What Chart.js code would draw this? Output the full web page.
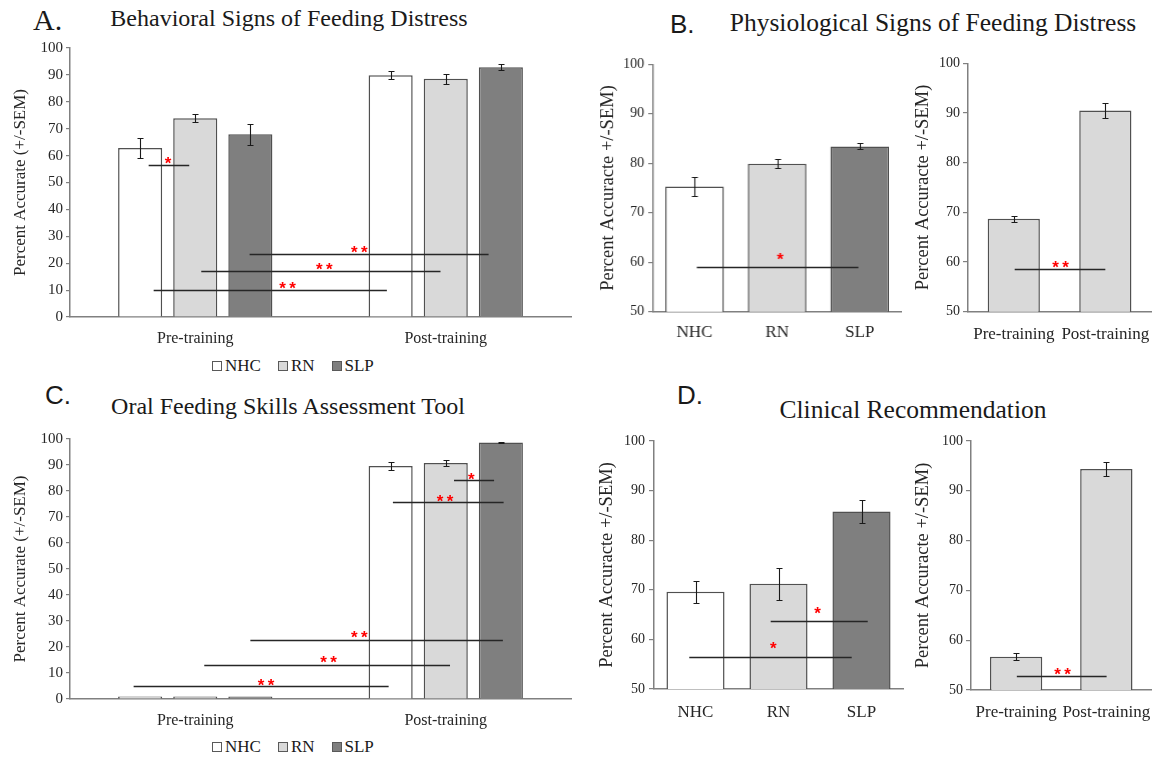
<!DOCTYPE html>
<html>
<head>
<meta charset="utf-8">
<script src="https://cdn.jsdelivr.net/npm/chart.js@4.4.1/dist/chart.umd.min.js"></script>
<style>
  body { margin: 0; width: 1160px; height: 757px; position: relative; overflow: hidden; background: #fff;
         font-family: "Liberation Serif", "Times New Roman", serif; color: #1a1a1a; }
  canvas { position: absolute; }
  .txt { position: absolute; white-space: nowrap; line-height: 1; }
  .title { transform: translateX(-50%); }
  .sans { font-family: "Liberation Sans", Arial, sans-serif; }
  .legend { position: absolute; display: flex; align-items: center; font-size: 17px; line-height: 1; }
  .legend span.box { display: inline-block; width: 8px; height: 8px; border: 1px solid #595959; margin-right: 3px; }
  .legend span.item { margin-right: 17px; }
</style>
</head>
<body>
<div class="txt" style="left:33px;top:5px;font-size:30px;">A.</div>
<div class="txt title" style="left:289px;top:6px;font-size:24px;">Behavioral Signs of Feeding Distress</div>
<div class="txt sans" style="left:670px;top:11px;font-size:26px;">B.</div>
<div class="txt title" style="left:933px;top:10px;font-size:25.5px;">Physiological Signs of Feeding Distress</div>
<div class="txt sans" style="left:45px;top:382px;font-size:26px;">C.</div>
<div class="txt title" style="left:288px;top:394px;font-size:24px;">Oral Feeding Skills Assessment Tool</div>
<div class="txt sans" style="left:677px;top:382px;font-size:26px;">D.</div>
<div class="txt title" style="left:913px;top:397px;font-size:25.5px;">Clinical Recommendation</div>

<script>
// categories
const phases = ['Pre-training', 'Post-training'];
const groups = ['NHC', 'RN', 'SLP'];

// A. Behavioral signs of feeding distress (% accurate, SEM), pre / post
const behavNHC = [62.8, 89.9];
const behavRN = [73.9, 88.6];
const behavSLP = [67.9, 92.8];
const behavNHCsem = [3.7, 1.5];
const behavRNsem = [1.4, 1.8];
const behavSLPsem = [3.8, 1.1];

// B. Physiological signs: by group, and by phase
const physioGroup = [75.3, 79.9, 83.4];
const physioGroupSem = [1.85, 0.9, 0.6];
const physioPhase = [68.7, 90.5];
const physioPhaseSem = [0.65, 1.5];

// C. Oral Feeding Skills Assessment Tool, pre / post
const ofsatNHC = [1.0, 89.6];
const ofsatRN = [1.0, 90.8];
const ofsatSLP = [1.0, 98.7];
const ofsatNHCsem = [0, 1.5];
const ofsatRNsem = [0, 1.2];
const ofsatSLPsem = [0, 0.3];

// D. Clinical recommendation: by group, and by phase
const clinGroup = [69.6, 71.2, 85.8];
const clinGroupSem = [2.2, 3.2, 2.25];
const clinPhase = [56.7, 94.4];
const clinPhaseSem = [0.7, 1.45];

// significance bars: from/to in category units, y in percent, star label position
const behavSig = [
  { from: -0.186, to: -0.024, y: 56.6, label: '*', at: -0.109, ly: 58.8 },
  { from: -0.166, to: 0.765, y: 10.1, label: '**', at: 0.368, ly: 12.2 },
  { from: 0.024, to: 0.979, y: 17.0, label: '**', at: 0.515, ly: 19.3 },
  { from: 0.217, to: 1.171, y: 23.6, label: '**', at: 0.655, ly: 25.6 }
];
const ofsatSig = [
  { from: -0.246, to: 0.772, y: 4.95, label: '**', at: 0.283, ly: 7.0 },
  { from: 0.036, to: 1.017, y: 13.2, label: '**', at: 0.532, ly: 15.7 },
  { from: 0.22, to: 1.228, y: 22.8, label: '**', at: 0.655, ly: 25.2 },
  { from: 0.789, to: 1.231, y: 75.8, label: '**', at: 0.997, ly: 77.7 },
  { from: 1.033, to: 1.193, y: 84.3, label: '*', at: 1.102, ly: 86.1 }
];
const physioGroupSig = [{ from: 0.028, to: 1.984, y: 59.0, label: '*', at: 1.037, ly: 61.4 }];
const physioPhaseSig = [{ from: 0.01, to: 1.0, y: 58.5, label: '**', at: 0.51, ly: 59.9 }];
const clinGroupSig = [
  { from: -0.075, to: 1.882, y: 56.5, label: '*', at: 0.937, ly: 59.0 },
  { from: 0.906, to: 2.075, y: 63.8, label: '*', at: 1.472, ly: 66.2 }
];
const clinPhaseSig = [{ from: 0.008, to: 1.003, y: 52.8, label: '**', at: 0.516, ly: 54.0 }];

const fills = ['#ffffff', '#d9d9d9', '#7f7f7f'];
const edge = '#505050';
const axisColor = '#808080';
const textColor = '#262626';

// error bars + significance lines
function marks(sig) {
  return {
    id: 'marks',
    afterDatasetsDraw(chart) {
      const ctx = chart.ctx, x = chart.scales.x, y = chart.scales.y;
      ctx.save();
      ctx.strokeStyle = '#1a1a1a';
      ctx.lineWidth = 1.1;
      chart.data.datasets.forEach((ds, di) => {
        chart.getDatasetMeta(di).data.forEach((bar, i) => {
          const e = ds.sem[i];
          if (!e) return;
          const t = Math.round(y.getPixelForValue(ds.data[i] + e)) + 0.5;
          const b = Math.round(y.getPixelForValue(ds.data[i] - e)) + 0.5;
          const cx = Math.round(bar.x) + 0.5;
          ctx.beginPath();
          ctx.moveTo(cx, t); ctx.lineTo(cx, b);
          ctx.moveTo(cx - 3, t); ctx.lineTo(cx + 3, t);
          ctx.moveTo(cx - 3, b); ctx.lineTo(cx + 3, b);
          ctx.stroke();
        });
      });
      ctx.lineWidth = 1.3;
      ctx.strokeStyle = '#262626';
      ctx.fillStyle = '#ff0000';
      ctx.font = 'bold 17px "Liberation Sans", Arial, sans-serif';
      ctx.textAlign = 'center';
      ctx.textBaseline = 'alphabetic';
      sig.forEach(s => {
        const py = Math.round(y.getPixelForValue(s.y)) + 0.5;
        ctx.beginPath();
        ctx.moveTo(x.getPixelForValue(s.from), py);
        ctx.lineTo(x.getPixelForValue(s.to), py);
        ctx.stroke();
        const sx = x.getPixelForValue(s.at), sy = y.getPixelForValue(s.ly) + 10;
        const n = s.label.length;
        for (let k = 0; k < n; k++) {
          ctx.fillText('*', sx + (k - (n - 1) / 2) * 10, sy);
        }
      });
      ctx.restore();
    }
  };
}

function makeChart(box, area, labels, datasets, sig, opt) {
  const c = document.createElement('canvas');
  c.width = box.w; c.height = box.h;
  c.style.left = box.x + 'px'; c.style.top = box.y + 'px';
  c.style.width = box.w + 'px'; c.style.height = box.h + 'px';
  document.body.appendChild(c);
  const yW = area.l - box.x, xH = box.y + box.h - area.b;
  new Chart(c, {
    type: 'bar',
    data: { labels: labels, datasets: datasets },
    options: {
      responsive: false,
      animation: false,
      devicePixelRatio: 1,
      categoryPercentage: opt.cat,
      barPercentage: opt.bar,
      layout: { padding: { top: area.t - box.y, right: box.x + box.w - area.r, left: 0, bottom: 0 } },
      plugins: { legend: { display: false }, tooltip: { enabled: false } },
      scales: {
        x: {
          grid: { display: true, drawOnChartArea: false, drawTicks: false },
          border: { color: axisColor, width: 1.5 },
          ticks: { color: textColor, padding: opt.xPad, maxRotation: 0, autoSkip: false,
                   font: { family: 'Liberation Serif', size: opt.xFont } },
          afterFit: s => { s.height = xH; }
        },
        y: {
          min: opt.min, max: 100,
          ticks: { stepSize: 10, color: textColor, padding: opt.yPad,
                   font: { family: 'Liberation Serif', size: opt.yFont } },
          grid: { drawOnChartArea: false, drawTicks: true, tickLength: opt.tick, color: axisColor, lineWidth: 1.2 },
          border: { color: axisColor, width: 1.5 },
          title: { display: true, text: opt.yTitle, color: textColor,
                   padding: { top: opt.titlePad, bottom: 0 },
                   font: { family: 'Liberation Serif', size: opt.titleFont } },
          afterFit: s => { s.width = yW; }
        }
      }
    },
    plugins: [marks(sig)]
  });
}

function groupSets(a, b, c, ea, eb, ec) {
  return [a, b, c].map((d, i) => ({
    label: groups[i], data: d, sem: [ea, eb, ec][i],
    backgroundColor: fills[i], borderColor: edge, borderWidth: 1.5
  }));
}
function singleSet(d, e, colors) {
  return [{ data: d, sem: e, backgroundColor: colors, borderColor: edge, borderWidth: 1.5 }];
}

function legend(x, y) {
  const div = document.createElement('div');
  div.className = 'legend';
  div.style.left = x + 'px'; div.style.top = y + 'px';
  groups.forEach((g, i) => {
    const box = document.createElement('span');
    box.className = 'box'; box.style.background = fills[i];
    const t = document.createElement('span');
    t.className = 'item'; t.textContent = g;
    div.appendChild(box); div.appendChild(t);
  });
  document.body.appendChild(div);
}

const wide = { cat: 0.66, bar: 0.8, min: 0, xPad: 12, xFont: 16, yPad: 3, yFont: 15, tick: 4,
               yTitle: 'Percent Accurate (+/-SEM)', titlePad: 10, titleFont: 17 };
const narrowTitle = 'Percent Accuracte +/-SEM)';

// A
makeChart({ x: 0, y: 36, w: 580, h: 320 }, { l: 70, t: 46, r: 571, b: 317 },
  phases, groupSets(behavNHC, behavRN, behavSLP, behavNHCsem, behavRNsem, behavSLPsem), behavSig, wide);
legend(212, 357);

// B
makeChart({ x: 580, y: 40, w: 323.5, h: 310 }, { l: 653, t: 64.3, r: 900.5, b: 311.7 },
  groups, singleSet(physioGroup, physioGroupSem, fills), physioGroupSig,
  { cat: 1, bar: 0.71, min: 50, xPad: 11, xFont: 17, yPad: 4, yFont: 14, tick: 5,
    yTitle: narrowTitle, titlePad: 17, titleFont: 18.5 });
makeChart({ x: 904, y: 40, w: 259, h: 310 }, { l: 968, t: 63.3, r: 1160, b: 311.7 },
  phases, singleSet(physioPhase, physioPhaseSem, [fills[1], fills[1]]), physioPhaseSig,
  { cat: 1, bar: 0.57, min: 50, xPad: 13, xFont: 17, yPad: 3, yFont: 14, tick: 5,
    yTitle: narrowTitle, titlePad: 8, titleFont: 18.5 });

// C
makeChart({ x: 0, y: 427, w: 580, h: 305 }, { l: 70, t: 437, r: 571, b: 699 },
  phases, groupSets(ofsatNHC, ofsatRN, ofsatSLP, ofsatNHCsem, ofsatRNsem, ofsatSLPsem), ofsatSig, wide);
legend(212, 738);

// D
makeChart({ x: 580, y: 420, w: 326, h: 310 }, { l: 654, t: 441, r: 903, b: 689 },
  groups, singleSet(clinGroup, clinGroupSem, fills), clinGroupSig,
  { cat: 1, bar: 0.70, min: 50, xPad: 13, xFont: 17, yPad: 4, yFont: 14, tick: 5,
    yTitle: narrowTitle, titlePad: 15.6, titleFont: 18.5 });
makeChart({ x: 905, y: 420, w: 258, h: 310 }, { l: 971, t: 441, r: 1160, b: 690 },
  phases, singleSet(clinPhase, clinPhaseSem, [fills[1], fills[1]]), clinPhaseSig,
  { cat: 1, bar: 0.58, min: 50, xPad: 12, xFont: 17, yPad: 3, yFont: 14, tick: 5,
    yTitle: narrowTitle, titlePad: 7.2, titleFont: 18.5 });
</script>
</body>
</html>
